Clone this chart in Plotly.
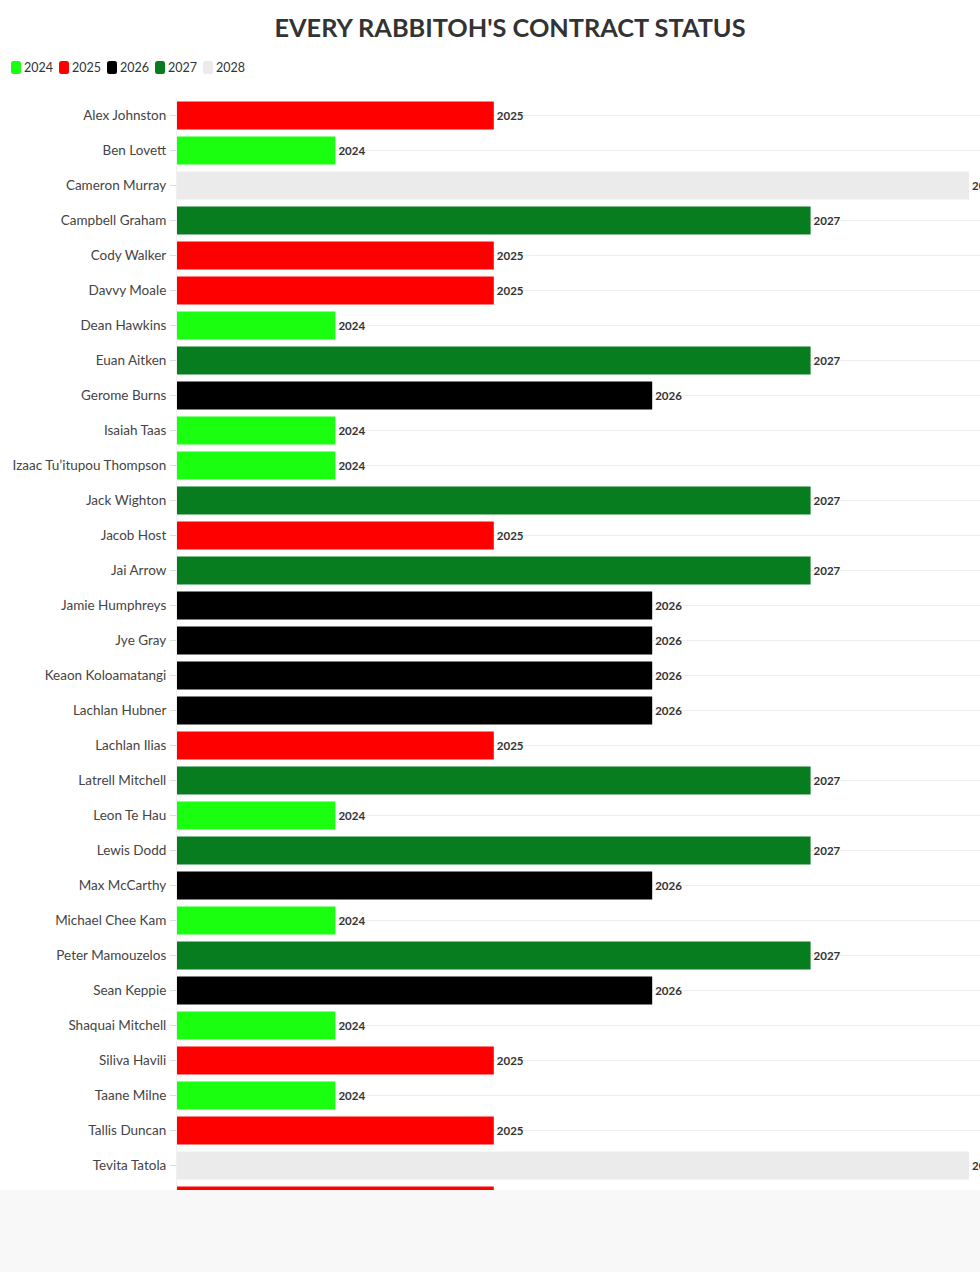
import plotly.graph_objects as go

players = [
    "Alex Johnston", "Ben Lovett", "Cameron Murray", "Campbell Graham", "Cody Walker",
    "Davvy Moale", "Dean Hawkins", "Euan Aitken", "Gerome Burns", "Isaiah Taas",
    "Izaac Tu’itupou Thompson", "Jack Wighton", "Jacob Host", "Jai Arrow",
    "Jamie Humphreys", "Jye Gray", "Keaon Koloamatangi", "Lachlan Hubner",
    "Lachlan Ilias", "Latrell Mitchell", "Leon Te Hau", "Lewis Dodd", "Max McCarthy",
    "Michael Chee Kam", "Peter Mamouzelos", "Sean Keppie", "Shaquai Mitchell",
    "Siliva Havili", "Taane Milne", "Tallis Duncan", "Tevita Tatola", "Tyrone Munro",
]
contract_end = [
    2025, 2024, 2028, 2027, 2025,
    2025, 2024, 2027, 2026, 2024,
    2024, 2027, 2025, 2027,
    2026, 2026, 2026, 2026,
    2025, 2027, 2024, 2027, 2026,
    2024, 2027, 2026, 2024,
    2025, 2024, 2025, 2028, 2025,
]
legend_years = [2024, 2025, 2026, 2027, 2028]
year_colors = ["#1aff0f", "#ff0000", "#000000", "#077d1f", "#ebebeb"]
axis_start = 2023

# ---- layout geometry (pixels) ----
W, H = 980, 1272
ML, MR, MT = 177, 0, 98
ROW = 35
plot_h = ROW * len(players)
MB = H - MT - plot_h
plot_w = W - ML - MR
px_per_year = 158.4
x_max = axis_start + plot_w / px_per_year


def px_x(X):
    return (X - ML) / plot_w


def px_y(Y):
    return (MT + plot_h - Y) / plot_h


fig = go.Figure()
for yr, col in zip(legend_years, year_colors):
    idx = [i for i, v in enumerate(contract_end) if v == yr]
    fig.add_trace(go.Bar(
        y=[players[i] for i in idx],
        x=[contract_end[i] - axis_start for i in idx],
        base=axis_start,
        orientation="h",
        name=str(yr),
        marker=dict(color=col, line=dict(width=0)),
        text=[str(contract_end[i]) for i in idx],
        textposition="outside",
        cliponaxis=False,
        textfont=dict(family="Lato", size=11.5, color="#333333", weight="bold"),
        showlegend=False,
        hovertemplate="%{y}: %{text}<extra></extra>",
    ))

shapes = []
annotations = []
# manual legend
for i, (yr, col) in enumerate(zip(legend_years, year_colors)):
    x0 = 11 + 48 * i
    x1 = x0 + 10
    y0, y1 = 61, 74
    r = 2.5
    path = (
        f"M {px_x(x0 + r)},{px_y(y0)} L {px_x(x1 - r)},{px_y(y0)} "
        f"Q {px_x(x1)},{px_y(y0)} {px_x(x1)},{px_y(y0 + r)} "
        f"L {px_x(x1)},{px_y(y1 - r)} Q {px_x(x1)},{px_y(y1)} {px_x(x1 - r)},{px_y(y1)} "
        f"L {px_x(x0 + r)},{px_y(y1)} Q {px_x(x0)},{px_y(y1)} {px_x(x0)},{px_y(y1 - r)} "
        f"L {px_x(x0)},{px_y(y0 + r)} Q {px_x(x0)},{px_y(y0)} {px_x(x0 + r)},{px_y(y0)} Z"
    )
    shapes.append(dict(type="path", xref="paper", yref="paper", path=path,
                       fillcolor=col, line=dict(width=0), layer="above"))
    annotations.append(dict(
        xref="paper", yref="paper", x=px_x(x1 + 1), y=px_y(67.5),
        xanchor="left", yanchor="middle", showarrow=False, text=str(yr),
        font=dict(family="Lato", size=12.5, color="#333333"),
    ))

# light footer band that crops the chart
shapes.append(dict(type="rect", xref="paper", yref="paper",
                   x0=px_x(-20), x1=px_x(W + 20), y0=px_y(H + 20), y1=px_y(1190),
                   fillcolor="#f8f8f8", line=dict(width=0), layer="above"))

fig.update_layout(
    width=W, height=H,
    margin=dict(l=ML, r=MR, t=MT, b=MB, pad=0),
    paper_bgcolor="white", plot_bgcolor="white",
    barmode="overlay", bargap=0.2,
    title=dict(text="<b>EVERY RABBITOH'S CONTRACT STATUS</b>",
               x=510 / W, xanchor="center", xref="container",
               y=1 - 28 / H, yanchor="middle",
               font=dict(family="Lato", size=25.3, color="#333333")),
    xaxis=dict(range=[axis_start, x_max], visible=False, fixedrange=True),
    yaxis=dict(categoryorder="array", categoryarray=players, autorange="reversed",
               showgrid=True, gridcolor="#eeeeee", gridwidth=1,
               ticks="outside", ticklen=6, tickcolor="#dddddd",
               showline=True, linecolor="#f0f0f0", linewidth=1,
               tickfont=dict(family="Lato", size=13.5, color="#444444"),
               ticklabelstandoff=1, fixedrange=True),
    shapes=shapes,
    annotations=annotations,
    showlegend=False,
)

fig.write_html("out.html",
               config={"displayModeBar": False},
               post_script="document.body.style.margin='0';document.body.style.overflow='hidden';")
